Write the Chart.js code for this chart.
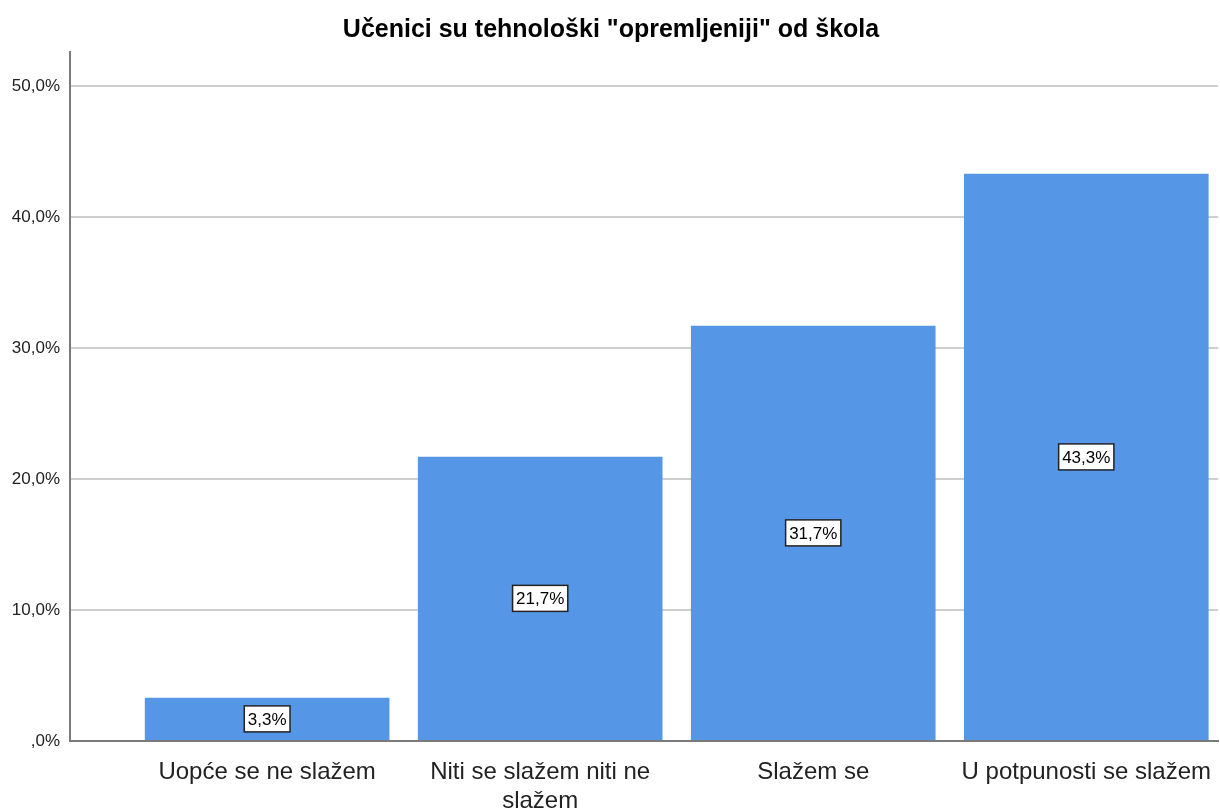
<!DOCTYPE html>
<html>
<head>
<meta charset="utf-8">
<script src="https://cdn.jsdelivr.net/npm/chart.js@4"></script>
<style>
  html, body { margin: 0; padding: 0; background: #fff; overflow: hidden; }
  #wrap { width: 1220px; height: 809px; }
</style>
</head>
<body>
<div id="wrap"><canvas id="chart" width="1220" height="809"></canvas></div>
<script>
// data
var categories = ['Uopće se ne slažem', ['Niti se slažem niti ne', 'slažem'], 'Slažem se', 'U potpunosti se slažem'];
var percents = [3.3, 21.7, 31.7, 43.3];
var yTicks = [0, 10, 20, 30, 40, 50];
var chartTitle = 'Učenici su tehnološki "opremljeniji" od škola';

function fmtPct(v) {
    if (v === 0) return ',0%';
    return v.toFixed(1).replace('.', ',') + '%';
}

// boxed value labels in the middle of every bar
var boxLabels = {
    id: 'boxLabels',
    afterDatasetsDraw: function(chart) {
        var ctx = chart.ctx;
        var meta = chart.getDatasetMeta(0);
        ctx.save();
        ctx.font = '17px "Liberation Sans", Arial, sans-serif';
        ctx.textAlign = 'center';
        ctx.textBaseline = 'middle';
        meta.data.forEach(function(bar, i) {
            var txt = fmtPct(percents[i]);
            var cy = (bar.y + bar.base) / 2;
            var w = ctx.measureText(txt).width + 7;
            var h = 26;
            ctx.fillStyle = '#fff';
            ctx.fillRect(bar.x - w / 2, cy - h / 2, w, h);
            ctx.strokeStyle = '#222';
            ctx.lineWidth = 1.5;
            ctx.strokeRect(bar.x - w / 2, cy - h / 2, w, h);
            ctx.fillStyle = '#000';
            ctx.fillText(txt, bar.x, cy + 1);
        });
        ctx.restore();
    }
};

var ctx = document.getElementById('chart').getContext('2d');
var myChart = new Chart(ctx, {
    type: 'bar',
    data: {
        datasets: [{
            data: percents.map(function(v, i) { return { x: i + 1, y: v }; }),
            backgroundColor: 'rgb(85, 150, 230)',
            borderWidth: 0,
            barPercentage: 0.896,
            categoryPercentage: 1
        }]
    },
    options: {
        responsive: false,
        animation: false,
        layout: { padding: { right: -2 } },
        plugins: {
            legend: { display: false },
            tooltip: { enabled: false },
            title: {
                display: true,
                text: chartTitle,
                color: '#000',
                font: { family: '"Liberation Sans", Arial, sans-serif', size: 25, weight: 'bold' },
                padding: { top: 15, bottom: 7 }
            }
        },
        scales: {
            x: {
                type: 'linear',
                offset: false,
                min: 0.278,
                max: 4.483,
                grid: { display: false },
                border: { display: true, color: '#7a7a7a', width: 2 },
                afterBuildTicks: function(scale) {
                    scale.ticks = categories.map(function(c, i) { return { value: i + 1 }; });
                },
                afterFit: function(scale) { scale.height = 68; },
                ticks: {
                    autoSkip: false,
                    maxRotation: 0,
                    padding: 9,
                    color: '#222',
                    font: { family: '"Liberation Sans", Arial, sans-serif', size: 24, lineHeight: 1.2 },
                    callback: function(v) { return categories[v - 1]; }
                }
            },
            y: {
                min: 0,
                max: 52.6,
                afterBuildTicks: function(scale) {
                    scale.ticks = yTicks.map(function(v) { return { value: v }; });
                },
                afterFit: function(scale) { scale.width = 70; },
                grid: {
                    drawTicks: false,
                    lineWidth: 2,
                    color: function(c) { return c.tick && c.tick.value === 0 ? 'rgba(0,0,0,0)' : '#cfcfcf'; }
                },
                border: { display: true, color: '#7a7a7a', width: 2 },
                ticks: {
                    padding: 10,
                    color: '#222',
                    font: { family: '"Liberation Sans", Arial, sans-serif', size: 17 },
                    callback: function(v) { return fmtPct(v); }
                }
            }
        }
    },
    plugins: [boxLabels]
});
</script>
</body>
</html>
